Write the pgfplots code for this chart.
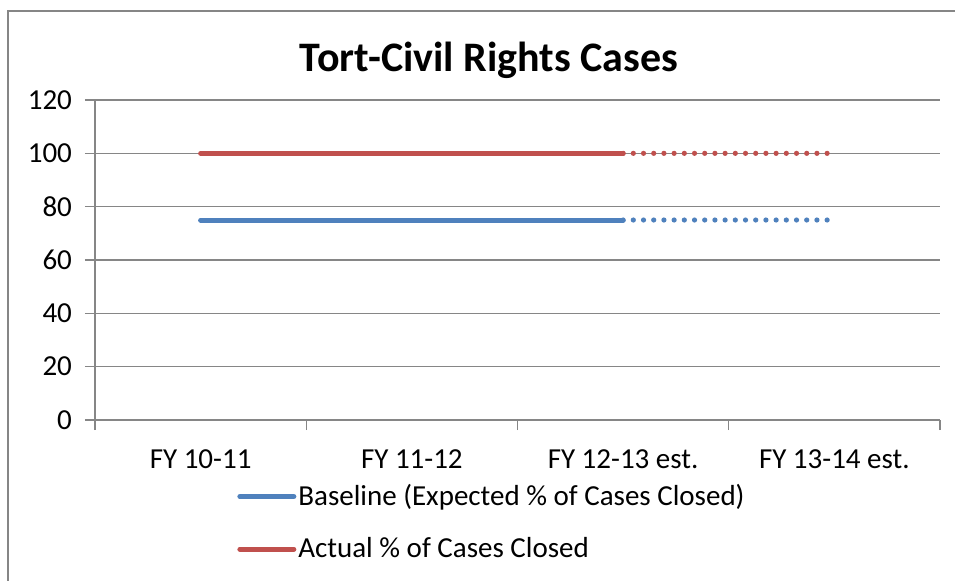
\documentclass[border=0pt]{standalone}
\usepackage{pgfplots}
\pgfplotsset{compat=1.18}
\usepackage{fontspec}
\setmainfont{Carlito}
\definecolor{exblue}{HTML}{4F81BD}
\definecolor{exred}{HTML}{C0504D}
\definecolor{gridgray}{HTML}{868686}
\begin{document}
\begin{tikzpicture}
\useasboundingbox (0,0) rectangle (477.5pt,-290pt);
\draw[color=gridgray, line width=0.8pt] (4pt,-5.5pt) rectangle (520pt,-320pt);
\node[font=\bfseries\fontsize{21}{25}\selectfont] at (244.5pt,-30pt) {Tort-Civil Rights Cases};
\begin{axis}[at={(47.5pt,-210pt)}, anchor=south west, scale only axis,
  width=422.5pt, height=160pt,
  xmin=0, xmax=4, ymin=0, ymax=120, ytick={0,20,...,120},
  xtick={0,1,2,3,4}, xticklabels={},
  extra x ticks={0.5,1.5,2.5,3.5},
  extra x tick labels={FY 10-11, FY 11-12, FY 12-13 est., FY 13-14 est.},
  extra x tick style={major tick length=0pt, grid=none},
  axis x line=bottom, axis y line=left, axis line style={-, gridgray, line width=0.6pt},
  ymajorgrids, grid style={gridgray, line width=0.6pt},
  tick style={gridgray, line width=0.6pt}, tick align=outside, major tick length=5pt,
  tick label style={font=\fontsize{14.5}{17}\selectfont},
  xticklabel style={yshift=-11.5pt},
  yticklabel style={xshift=-3pt},
  /pgf/number format/assume math mode=true,
  clip=false,
  legend style={at={(0.168,-0.194)}, anchor=north west, draw=none, fill=none,
    font=\fontsize{14.5}{17}\selectfont, row sep=12.5pt, inner sep=0pt,
    nodes={inner sep=1pt}},
  legend cell align=left,
  legend image code/.code={\draw[line width=2.5pt, line cap=round] (0pt,0pt) -- (27pt,0pt);},
]
\addplot[exblue, line width=2.5pt, line cap=round] coordinates {(0.5,75) (1.5,75) (2.5,75)};
\addlegendentry{Baseline (Expected \% of Cases Closed)}
\addplot[exred, line width=2.5pt, line cap=round] coordinates {(0.5,100) (1.5,100) (2.5,100)};
\addlegendentry{Actual \% of Cases Closed}
\addplot[exblue, line width=2.6pt, line cap=round, dash pattern=on 0pt off 5.1pt, forget plot] coordinates {(2.5,75) (3.5,75)};
\addplot[exred, line width=2.6pt, line cap=round, dash pattern=on 0pt off 5.1pt, forget plot] coordinates {(2.5,100) (3.5,100)};
\end{axis}
\end{tikzpicture}
\end{document}
